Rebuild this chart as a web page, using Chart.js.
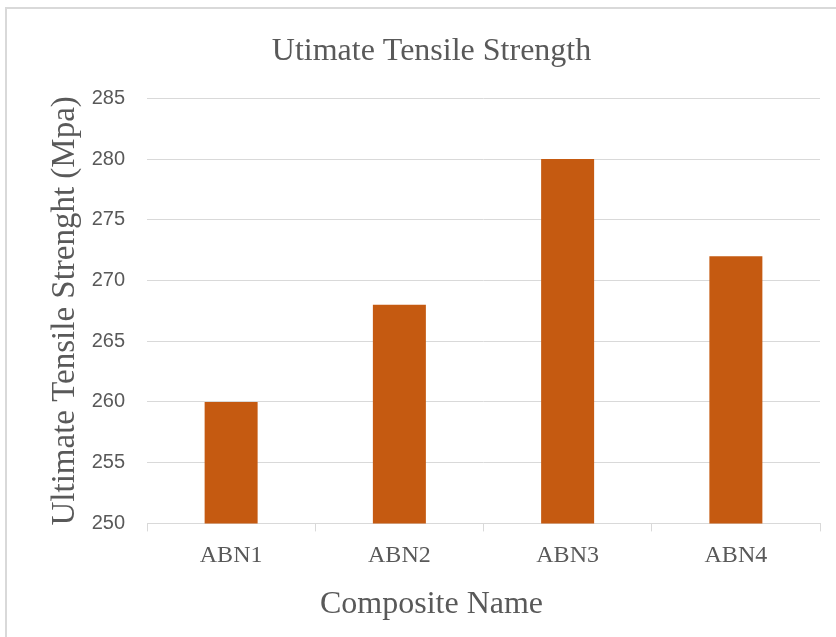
<!DOCTYPE html>
<html>
<head>
<meta charset="utf-8">
<script src="https://cdn.jsdelivr.net/npm/chart.js@4"></script>
<style>
  html, body { margin: 0; padding: 0; background: #ffffff; overflow: hidden; }
  #frame {
    position: absolute; left: 5px; top: 7px; width: 900px; height: 700px;
    border: 2px solid #d9d9d9; box-sizing: border-box;
  }
  #wrap { position: absolute; left: 0; top: 0; width: 836px; height: 637px; }
</style>
</head>
<body>
<div id="frame"></div>
<div id="wrap"><canvas id="chart" width="836" height="637"></canvas></div>
<script>
// Composite samples and their ultimate tensile strength (MPa)
const composites = ['ABN1', 'ABN2', 'ABN3', 'ABN4'];
const strength = [260, 268, 280, 272];
const yTicks = [250, 255, 260, 265, 270, 275, 280, 285];

const textGrey = '#595959';
const lineGrey = '#d9d9d9';
const serif = "'Liberation Serif', 'Times New Roman', serif";
const sans = "'Liberation Sans', Arial, sans-serif";

const padLeft = 43;      // space left of the value axis
const plotLeft = 147;    // where the plotting area starts

new Chart(document.getElementById('chart'), {
  type: 'bar',
  data: {
    labels: composites,
    datasets: [{
      data: strength,
      backgroundColor: '#C55A11',
      borderWidth: 0,
      categoryPercentage: 1,
      barPercentage: 0.315
    }]
  },
  options: {
    responsive: false,
    animation: false,
    layout: { padding: { left: padLeft, right: 16, top: 0, bottom: 0 } },
    plugins: {
      legend: { display: false },
      tooltip: { enabled: false },
      title: {
        display: true,
        text: 'Utimate Tensile Strength',
        color: textGrey,
        font: { family: serif, size: 32, weight: 'normal' },
        padding: { top: 32.4, bottom: 27.5 }
      },
      // category axis caption, set under the axis
      subtitle: {
        display: true,
        position: 'bottom',
        text: 'Composite Name',
        color: textGrey,
        font: { family: serif, size: 32, weight: 'normal' },
        padding: { top: 5, bottom: 13.4 }
      }
    },
    scales: {
      x: {
        offset: true,
        border: { display: true, color: lineGrey, width: 1 },
        grid: {
          offset: true,
          drawOnChartArea: false,
          drawTicks: true,
          tickLength: 8,
          color: lineGrey
        },
        ticks: {
          color: textGrey,
          padding: 10,
          font: { family: serif, size: 24 }
        }
      },
      y: {
        min: yTicks[0],
        max: yTicks[yTicks.length - 1],
        afterBuildTicks: (scale) => { scale.ticks = yTicks.map(v => ({ value: v })); },
        afterFit: (scale) => { scale.width = plotLeft - padLeft; },
        border: { display: false },
        grid: { color: lineGrey, drawTicks: false },
        ticks: {
          color: textGrey,
          padding: 22,
          font: { family: sans, size: 20 }
        },
        title: {
          display: true,
          text: 'Ultimate Tensile Strenght (Mpa)',
          color: textGrey,
          font: { family: serif, size: 33 },
          padding: { top: 2.5, bottom: 0 }
        }
      }
    }
  }
});
</script>
</body>
</html>
